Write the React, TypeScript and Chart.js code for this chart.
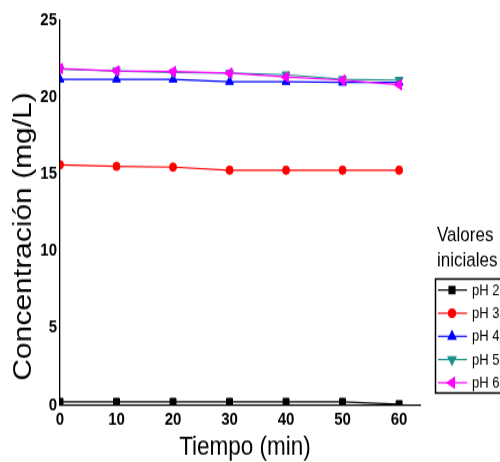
import React, { useEffect, useRef } from "react";
import { Chart, registerables } from "chart.js";
import { drawPoint } from "chart.js/helpers";

Chart.register(...registerables);

const times = [0, 10, 20, 30, 40, 50, 60];
const xTicks = [0, 10, 20, 30, 40, 50, 60];
const yTicks = [0, 5, 10, 15, 20, 25];
const seriesLabels = ["pH 2", "pH 3", "pH 4", "pH 5", "pH 6"];
const ph2 = [0.2, 0.2, 0.2, 0.2, 0.2, 0.2, 0.05];
const ph3 = [15.6, 15.5, 15.45, 15.25, 15.25, 15.25, 15.25];
const ph4 = [21.15, 21.15, 21.15, 21.0, 21.0, 20.95, 20.95];
const ph5 = [21.8, 21.7, 21.6, 21.55, 21.45, 21.15, 21.1];
const ph6 = [21.85, 21.7, 21.65, 21.55, 21.3, 21.1, 20.8];
const xTitle = "Tiempo (min)";
const yTitle = "Concentración (mg/L)";
const legendTitle = ["Valores", "iniciales"];

const FONT = '"Liberation Sans", Arial, sans-serif';

const styles = [
  { color: "#000000", pointStyle: "rect", radius: 4.2, rotation: 0 },
  { color: "#ff0000", pointStyle: "circle", radius: 3.5, rotation: 0 },
  { color: "#0000ff", pointStyle: "triangle", radius: 4.5, rotation: 0 },
  { color: "#1f8f8a", pointStyle: "triangle", radius: 4.5, rotation: 180 },
  { color: "#ff00ff", pointStyle: "triangle", radius: 5, rotation: 270 },
];

const seriesValues = [ph2, ph3, ph4, ph5, ph6];

const overlay = {
  id: "overlay",
  afterDraw(chart: any) {
    const ctx = chart.ctx as CanvasRenderingContext2D;
    ctx.save();
    ctx.fillStyle = "#000";
    // y title
    ctx.save();
    ctx.translate(24, 197);
    ctx.rotate(-Math.PI / 2);
    ctx.font = `25px ${FONT}`;
    ctx.textAlign = "center";
    ctx.textBaseline = "middle";
    ctx.fillText(yTitle, 0, 0);
    ctx.restore();
    // x title
    ctx.font = `22.5px ${FONT}`;
    ctx.textAlign = "center";
    ctx.textBaseline = "middle";
    ctx.fillText(xTitle, 245, 373);
    // legend heading
    ctx.textAlign = "left";
    ctx.font = `17px ${FONT}`;
    ctx.fillText(legendTitle[0], 437, 196);
    ctx.fillText(legendTitle[1], 437, 217);
    // legend box
    ctx.lineWidth = 1.5;
    ctx.strokeStyle = "#000";
    ctx.strokeRect(435.5, 232.5, 120, 95);
    // entries
    ctx.font = `13px ${FONT}`;
    seriesLabels.forEach((lab, i) => {
      const y = 241.7 + i * 19.3;
      const st = styles[i];
      ctx.strokeStyle = st.color;
      ctx.fillStyle = st.color;
      ctx.lineWidth = 1.2;
      ctx.beginPath();
      ctx.moveTo(438, y);
      ctx.lineTo(467, y);
      ctx.stroke();
      drawPoint(ctx, { pointStyle: st.pointStyle as any, radius: st.radius, rotation: st.rotation, borderWidth: 1 }, 452, y);
      ctx.fillStyle = "#000";
      ctx.textBaseline = "middle";
      ctx.fillText(lab, 472, y + 0.5);
    });
    ctx.restore();
  },
};

export default function App() {
  const ref = useRef<HTMLCanvasElement>(null);
  useEffect(() => {
    document.body.style.margin = "0";
    const datasets = seriesLabels.map((lab, i) => ({
      label: lab,
      data: times.map((t, j) => ({ x: t, y: seriesValues[i][j] })),
      borderColor: styles[i].color,
      backgroundColor: styles[i].color,
      pointBackgroundColor: styles[i].color,
      pointBorderColor: styles[i].color,
      pointStyle: styles[i].pointStyle as any,
      pointRadius: styles[i].radius,
      pointRotation: styles[i].rotation,
      pointBorderWidth: 1,
      borderWidth: 1.2,
      tension: 0,
      order: 5 - i,
    }));
    const chart = new Chart(ref.current!, {
      type: "line",
      data: { datasets },
      options: {
        animation: false,
        responsive: true,
        maintainAspectRatio: false,
        layout: { padding: { top: 16.7, right: 80, left: 0, bottom: 0 } },
        plugins: { legend: { display: false }, tooltip: { enabled: false }, title: { display: false } },
        scales: {
          x: {
            type: "linear",
            min: 0,
            max: 63.7,
            grid: { display: false, drawTicks: false },
            border: { display: true, color: "#000", width: 1.3 },
            afterBuildTicks: (s: any) => {
              s.ticks = xTicks.map((v) => ({ value: v }));
            },
            afterFit: (s: any) => {
              s.height = 47.5;
            },
            ticks: { color: "#000", font: { family: FONT, size: 15, weight: "bold" }, padding: 3, maxRotation: 0 },
          },
          y: {
            type: "linear",
            min: 0,
            max: 25,
            grid: { display: false, drawTicks: false },
            border: { display: true, color: "#000", width: 1.3 },
            afterBuildTicks: (s: any) => {
              s.ticks = yTicks.map((v) => ({ value: v }));
            },
            afterFit: (s: any) => {
              s.width = 60;
            },
            ticks: { color: "#000", font: { family: FONT, size: 15, weight: "bold" }, padding: 3 },
          },
        },
      },
      plugins: [overlay],
    });
    return () => chart.destroy();
  }, []);
  return (
    <div style={{ width: 500, height: 462, overflow: "hidden", position: "relative" }}>
      <div style={{ width: 500, height: 385, position: "absolute", left: 0, top: 0, transform: "scaleY(1.2)", transformOrigin: "0 0" }}>
        <canvas ref={ref} />
      </div>
    </div>
  );
}
